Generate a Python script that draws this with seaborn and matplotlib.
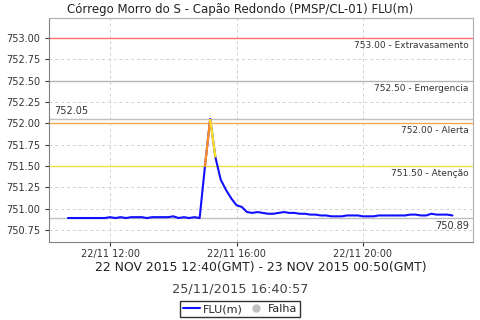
import numpy as np
import pandas as pd
import matplotlib
matplotlib.use("Agg")
import matplotlib.pyplot as plt
import matplotlib.dates as mdates
import seaborn as sns
from matplotlib.lines import Line2D

# ---- data ----
start = "2015-11-22 10:40"
levels = [
    750.89, 750.89, 750.89, 750.89, 750.89, 750.89, 750.89, 750.89, 750.90, 750.89,
    750.90, 750.89, 750.90, 750.90, 750.90, 750.89, 750.90, 750.90, 750.90, 750.90,
    750.91, 750.89, 750.90, 750.89, 750.90, 750.89, 751.49, 752.05, 751.60, 751.34,
    751.22, 751.12, 751.04, 751.02, 750.96, 750.95, 750.96, 750.95, 750.94, 750.94,
    750.95, 750.96, 750.95, 750.95, 750.94, 750.94, 750.93, 750.93, 750.92, 750.92,
    750.91, 750.91, 750.91, 750.92, 750.92, 750.92, 750.91, 750.91, 750.91, 750.92,
    750.92, 750.92, 750.92, 750.92, 750.92, 750.93, 750.93, 750.92, 750.92, 750.94,
    750.93, 750.93, 750.93, 750.92,
]
times = pd.date_range(start, periods=len(levels), freq="10min")
threshold_values = [753.00, 752.50, 752.00, 751.50]
threshold_names = ["Extravasamento", "Emergencia", "Alerta", "Atenção"]
threshold_colors = ["#ff7070", "#b4b4b4", "#ffa850", "#f2e040"]
y_ticks = [750.75, 751.00, 751.25, 751.50, 751.75, 752.00, 752.25, 752.50, 752.75, 753.00]
x_ticks = ["2015-11-22 12:00", "2015-11-22 16:00", "2015-11-22 20:00"]
x_tick_labels = ["22/11 12:00", "22/11 16:00", "22/11 20:00"]
title = "Córrego Morro do S - Capão Redondo (PMSP/CL-01) FLU(m)"
subtitle = "22 NOV 2015 12:40(GMT) - 23 NOV 2015 00:50(GMT)"
stamp = "25/11/2015 16:40:57"

df = pd.DataFrame({"time": times, "level": levels})

sns.set_style("white")
plt.rcParams["font.family"] = ["DejaVu Sans"]

fig = plt.figure(figsize=(4.8, 3.2), dpi=100)
ax = fig.add_axes([49/480, 78/320, (473-49)/480, (242-18)/320])

ymin, ymax = 750.609, 753.234
xmin = pd.Timestamp("2015-11-22 10:04")
xmax = pd.Timestamp("2015-11-22 23:29")
ax.set_xlim(xmin, xmax)
ax.set_ylim(ymin, ymax)

ax.set_yticks(y_ticks)
ax.set_yticklabels([f"{v:.2f}" for v in y_ticks])
ax.set_xticks(pd.to_datetime(x_ticks))
ax.set_xticklabels(x_tick_labels)
ax.grid(True, color="#d0d0d0", linestyle=(0, (3, 3)), linewidth=0.7)
ax.set_axisbelow(True)

# threshold lines and labels
for v, n, c in zip(threshold_values, threshold_names, threshold_colors):
    ax.axhline(v, color=c, linewidth=1.0, zorder=2)
    ax.text(0.99, v - 0.035, f"{v:.2f} - {n}", transform=ax.get_yaxis_transform(),
            ha="right", va="top", fontsize=6.5, color="#333333")

# max/min lines
vmax, vmin = max(levels), min(levels)
ax.axhline(vmax, color="#c0c0c0", linewidth=1.0, zorder=2)
ax.axhline(vmin, color="#c0c0c0", linewidth=1.0, zorder=2)
ax.text(0.012, vmax + 0.03, f"{vmax:.2f}", transform=ax.get_yaxis_transform(),
        ha="left", va="bottom", fontsize=7, color="#333333")
ax.text(0.99, vmin - 0.035, f"{vmin:.2f}", transform=ax.get_yaxis_transform(),
        ha="right", va="top", fontsize=7, color="#333333")

# series
sns.lineplot(data=df, x="time", y="level", ax=ax, color="#1010ff", linewidth=1.5,
             zorder=3, legend=False)
# segments colored by end value
for i in range(1, len(levels)):
    end = levels[i]
    if end >= 752.0:
        col = "#ff9020"
    elif end >= 751.5:
        col = "#ffe020"
    else:
        continue
    ax.plot(times[i-1:i+1], levels[i-1:i+1], color=col, linewidth=1.6, zorder=4,
            solid_capstyle="butt")

ax.set_xlabel("")
ax.set_ylabel("")
for s in ["left", "bottom"]:
    ax.spines[s].set_color("#808080")
for s in ["top", "right"]:
    ax.spines[s].set_color("#b0b0b0")
ax.tick_params(axis="both", labelsize=7, colors="#333333", length=3, direction="out",
               left=True, bottom=True)
ax.tick_params(axis="x", pad=2)

fig.text(0.5, 1 - 10/320, title, ha="center", va="center", fontsize=8.5, color="#222222")
fig.text(261/480, 1 - 268/320, subtitle, ha="center", va="center", fontsize=8.9, color="#222222")
fig.text(0.5, 1 - 289/320, stamp, ha="center", va="center", fontsize=9.3, color="#444444")

handles = [Line2D([0], [0], color="#1010ff", linewidth=1.5),
           Line2D([0], [0], marker="o", color="none", markerfacecolor="#c0c0c0",
                  markeredgecolor="#c0c0c0", markersize=5)]
leg = fig.legend(handles, ["FLU(m)", "Falha"], loc="center", bbox_to_anchor=(0.5, 1 - 309/320),
                 ncol=2, fontsize=8, frameon=True, fancybox=False, handlelength=1.5,
                 handletextpad=0.3, columnspacing=0.4, borderpad=0.25, borderaxespad=0)
leg.get_frame().set_edgecolor("black")
leg.get_frame().set_linewidth(1.0)

fig.savefig("out.png", dpi=100)
